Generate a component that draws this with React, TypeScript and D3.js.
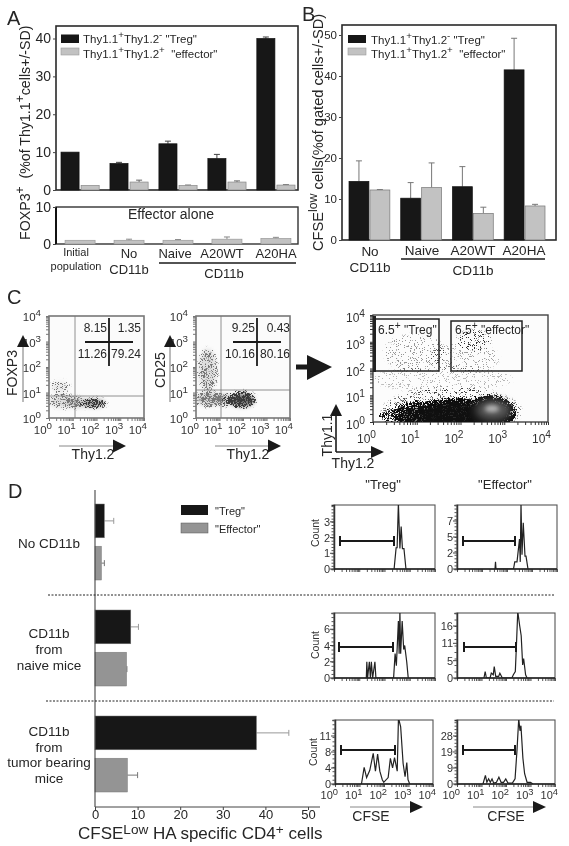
import { useEffect, useRef } from "react";
import * as d3 from "d3";

type Part = string | { sup: string };
type G = d3.Selection<SVGGElement, unknown, null, undefined>;
type Box = { left: number; right: number; top: number; bottom: number };

// panel A
const groupsA = ["Initial population", "No CD11b", "Naive", "A20WT", "A20HA"];
const seriesNames = ["Treg", "Effector"];
const tregA = [10, 7, 12.2, 8.3, 40];
const tregASd = [0, 0.3, 0.7, 1.1, 0.4];
const effectorA = [1.2, 2.1, 1.2, 2.1, 1.3];
const effectorASd = [0, 0.5, 0.1, 0.3, 0.1];
const aloneA = [1, 1, 1, 1.3, 1.5];
const aloneASd = [0, 0.3, 0.2, 0.6, 0.3];
const ticksA = [0, 10, 20, 30, 40];
const ticksAlone = [0, 10];

// panel B
const groupsB = ["No CD11b", "Naive", "A20WT", "A20HA"];
const tregB = [14.3, 10.2, 13, 41.5];
const tregBSd = [5, 3.8, 4.9, 7.7];
const effectorB = [12.2, 12.8, 6.5, 8.3];
const effectorBSd = [0.1, 6, 1.5, 0.4];
const ticksB = [0, 10, 20, 30, 40, 50];

// panel C, clouds are [x decade, y decade, x radius, y radius, density]
const decades = [0, 1, 2, 3, 4];
const quadC1 = ["8.15", "1.35", "11.26", "79.24"];
const quadC2 = ["9.25", "0.43", "10.16", "80.16"];
const lightC1 = [
  [0.45, 1.2, 0.42, 0.28, 0.35],
  [0.55, 0.65, 0.6, 0.3, 0.45],
  [1.2, 0.6, 0.5, 0.22, 0.55],
];
const paleC1 = [
  [0.45, 1.2, 0.35, 0.22, 0.2],
  [0.55, 0.65, 0.55, 0.25, 0.35],
  [1.2, 0.6, 0.5, 0.2, 0.5],
];
const darkC1 = [[1.87, 0.58, 0.55, 0.2, 0.7]];
const softC1 = [[1.9, 0.58, 0.45, 0.15, 0.6]];
const lightC2 = [
  [0.5, 1.9, 0.42, 0.85, 0.45],
  [0.55, 0.75, 0.6, 0.32, 0.6],
  [1.2, 0.72, 0.5, 0.25, 0.65],
];
const paleC2 = [
  [0.5, 1.9, 0.38, 0.8, 0.35],
  [0.55, 0.75, 0.55, 0.28, 0.5],
  [1.2, 0.72, 0.45, 0.22, 0.6],
];
const darkC2 = [
  [1.95, 0.72, 0.6, 0.33, 0.8],
  [1.4, 0.7, 0.3, 0.2, 0.5],
];
const softC2 = [[1.97, 0.7, 0.5, 0.25, 0.85]];
const sparseC3 = [
  [0.95, 2.6, 0.72, 0.7, 0.1],
  [2.3, 3.05, 0.4, 0.4, 0.22],
  [2.1, 2.4, 0.8, 0.55, 0.09],
  [1.6, 1.6, 1.6, 0.5, 0.07],
  [1.8, 0.4, 1.6, 0.9, 0.16],
];
const blackC3 = [
  [0.55, 0.2, 0.4, 0.35, 0.5],
  [1.1, 0.25, 0.65, 0.55, 0.85],
  [1.9, 0.25, 0.95, 0.65, 1],
  [2.65, 0.35, 0.62, 0.65, 1],
];
const shadeC3 = [
  [1.1, 0.2, 0.5, 0.35, 0.6],
  [1.9, 0.25, 0.8, 0.5, 0.9],
  [2.65, 0.35, 0.5, 0.5, 1],
];
const coreC3 = [[2.75, 0.45, 0.4, 0.38, 0.6]];
const brightC3 = [[2.72, 0.5, 0.16, 0.14, 0.8]];

// panel D
const groupsD = ["No CD11b", "CD11b from naive mice", "CD11b from tumor bearing mice"];
const tregD = [2.2, 8.4, 37.9];
const tregDSd = [2.2, 1.8, 7.6];
const effectorD = [1.5, 7.4, 7.6];
const effectorDSd = [0.7, 0.1, 2.4];
const ticksD = [0, 10, 20, 30, 40, 50];

// histograms, [CFSE decade, count]
const histNoTreg = [
  [2.38, 0], [2.46, 1.35], [2.5, 1.35], [2.55, 4.2], [2.61, 1.3], [2.66, 2.7], [2.71, 1.3], [2.77, 1.3], [2.85, 0],
];
const histNoEff = [
  [1.52, 0], [1.54, 1], [1.56, 0], [2.26, 0], [2.31, 1], [2.4, 1], [2.5, 4.2], [2.53, 1], [2.56, 9.2], [2.6, 2], [2.65, 6.5], [2.72, 1.8], [2.76, 1.8], [2.84, 0],
];
const histNaiveTreg = [
  [1.28, 0], [1.3, 2], [1.33, 0], [1.4, 2], [1.44, 0], [1.48, 2], [1.53, 0], [1.62, 2], [1.66, 0], [2.36, 0], [2.42, 3], [2.47, 1.5], [2.55, 7], [2.58, 3], [2.61, 8.2], [2.64, 3], [2.7, 7], [2.76, 3.5], [2.8, 4], [2.88, 2], [2.94, 0],
];
const histNaiveEff = [
  [1.1, 0], [1.15, 2], [1.2, 0], [1.35, 0], [1.4, 1.5], [1.48, 1], [1.52, 3.5], [1.58, 0.5], [1.7, 0.5], [1.75, 1.5], [1.85, 0], [2.24, 0], [2.3, 1], [2.38, 2], [2.42, 9], [2.48, 20.5], [2.56, 16], [2.62, 13], [2.68, 4], [2.72, 6], [2.8, 1], [2.86, 0],
];
const histTumorTreg = [
  [1.08, 0], [1.19, 3.9], [1.29, 1.5], [1.42, 3.2], [1.56, 7.2], [1.65, 3], [1.74, 7], [1.83, 3], [1.93, 1], [1.99, 0.4], [2.17, 1.5], [2.26, 6], [2.35, 3.8], [2.43, 6.2], [2.54, 3], [2.59, 15.5], [2.68, 13.4], [2.78, 4.8], [2.86, 1.7], [2.93, 5], [2.98, 1], [3.05, 0],
];
const histTumorEff = [
  [1.06, 0], [1.16, 5], [1.22, 1], [1.29, 3], [1.36, 1], [1.43, 3], [1.5, 0.5], [1.61, 1], [1.71, 4], [1.8, 1], [1.9, 1], [1.99, 3], [2.08, 0.5], [2.26, 0.5], [2.37, 3], [2.45, 20], [2.52, 38], [2.57, 31], [2.61, 34], [2.69, 15], [2.76, 6], [2.86, 1], [3, 1], [3.1, 0],
];
const histTicksNoTreg = [0, 1, 2, 3];
const histTicksNoEff = [0, 2.25, 4.5, 6.75];
const histTicksNaiveTreg = [0, 2, 4, 6];
const histTicksNaiveEff = [0, 5.33, 10.67, 16];
const histTicksTumorTreg = [0, 3.75, 7.5, 11.25];
const histTicksTumorEff = [0, 9.33, 18.67, 28];

const FONT = "'Liberation Sans', Arial, sans-serif";
const INK = "#262626";

function rich(
  g: G,
  x: number,
  y: number,
  parts: Part[],
  size: number,
  opts: { anchor?: string; rotate?: number; fill?: string; supShift?: number; supScale?: number } = {}
) {
  const t = g
    .append("text")
    .attr("transform", `translate(${x},${y}) rotate(${opts.rotate || 0})`)
    .attr("text-anchor", opts.anchor || "start")
    .attr("font-size", size)
    .attr("fill", opts.fill || INK)
    .style("white-space", "pre");
  let shift = 0;
  parts.forEach((p) => {
    const isSup = typeof p !== "string";
    const want = isSup ? -(opts.supShift || 0.4) * size : 0;
    t.append("tspan")
      .attr("dy", want - shift)
      .attr("font-size", isSup ? size * (opts.supScale || 0.85) : size)
      .text(isSup ? p.sup : p);
    shift = want;
  });
}

function bars(
  g: G,
  x: (i: number) => number,
  w: number,
  y: d3.ScaleLinear<number, number>,
  values: number[],
  sd: number[],
  fill: string,
  stroke: string,
  errColor: string
) {
  values.forEach((v, i) => {
    const cx = x(i) + w / 2;
    if (sd[i] > 0) {
      g.append("line").attr("x1", cx).attr("x2", cx).attr("y1", y(v)).attr("y2", y(v + sd[i])).attr("stroke", errColor);
      g.append("line").attr("x1", cx - 3).attr("x2", cx + 3).attr("y1", y(v + sd[i])).attr("y2", y(v + sd[i])).attr("stroke", errColor);
    }
    g.append("rect")
      .attr("x", x(i))
      .attr("y", y(v))
      .attr("width", w)
      .attr("height", y(0) - y(v))
      .attr("fill", fill)
      .attr("stroke", stroke)
      .attr("stroke-width", 0.7);
  });
}

function yAxis(g: G, xPos: number, y: d3.ScaleLinear<number, number>, ticks: number[], size: number) {
  const a = g
    .append("g")
    .attr("transform", `translate(${xPos},0)`)
    .call(d3.axisLeft(y).tickValues(ticks).tickSize(3).tickPadding(2));
  a.select(".domain").remove();
  a.selectAll("line").attr("stroke", "#444");
  a.selectAll("text").attr("font-size", size).attr("font-family", FONT).attr("fill", INK);
}

function logScales(box: Box) {
  return {
    x: d3.scaleLog().domain([1, 1e4]).range([box.left, box.right]),
    y: d3.scaleLog().domain([1, 1e4]).range([box.bottom, box.top]),
  };
}

const minor = d3.range(0, 4).flatMap((d) => d3.range(1, 10).map((m) => m * 10 ** d)).concat([1e4]);

function minorTicks(g: G, box: Box, color: string, bottomOnly = false) {
  const { x, y } = logScales(box);
  const b = g
    .append("g")
    .attr("transform", `translate(0,${box.bottom})`)
    .call(d3.axisBottom(x).tickValues(minor).tickFormat(() => "").tickSize(3));
  b.select(".domain").remove();
  b.selectAll("line").attr("stroke", color);
  if (bottomOnly) return;
  const l = g
    .append("g")
    .attr("transform", `translate(${box.left},0)`)
    .call(d3.axisLeft(y).tickValues(minor).tickFormat(() => "").tickSize(3));
  l.select(".domain").remove();
  l.selectAll("line").attr("stroke", color);
}

function clouds(g: G, box: Box, id: string, items: number[][], filter: string, fill = "#000") {
  const { x, y } = logScales(box);
  const c = g.append("g").attr("clip-path", `url(#${id})`).append("g").attr("filter", `url(#${filter})`);
  items.forEach(([cx, cy, rx, ry, d]) => {
    c.append("ellipse")
      .attr("cx", x(10 ** cx))
      .attr("cy", y(10 ** cy))
      .attr("rx", x(10 ** (cx + rx)) - x(10 ** cx))
      .attr("ry", y(10 ** cy) - y(10 ** (cy + ry)))
      .attr("fill", fill)
      .attr("fill-opacity", d);
  });
}

function clip(defs: d3.Selection<SVGDefsElement, unknown, null, undefined>, id: string, box: Box) {
  defs
    .append("clipPath")
    .attr("id", id)
    .append("rect")
    .attr("x", box.left)
    .attr("y", box.top)
    .attr("width", box.right - box.left)
    .attr("height", box.bottom - box.top);
}

function logLabels(g: G, box: Box, size: number, xBase: number, yEnd: number, yDrop: number) {
  const { x, y } = logScales(box);
  decades.forEach((d) => {
    rich(g, x(10 ** d) + 3, xBase, ["10", { sup: String(d) }], size, { anchor: "end", fill: "#333" });
    rich(g, yEnd, y(10 ** d) + yDrop, ["10", { sup: String(d) }], size, { anchor: "end", fill: "#333" });
  });
}

function triangle(g: G, pts: number[][], fill = "#1a1a1a") {
  g.append("polygon").attr("points", pts.map((p) => p.join(",")).join(" ")).attr("fill", fill);
}

function histogram(
  g: G,
  defs: d3.Selection<SVGDefsElement, unknown, null, undefined>,
  id: string,
  box: Box,
  data: number[][],
  yMax: number,
  ticks: number[],
  gate: number[],
  gateY: number,
  labelX: boolean
) {
  const { x } = logScales(box);
  const y = d3.scaleLinear().domain([0, yMax]).range([box.bottom, box.top]);
  clip(defs, id, box);
  g.append("rect")
    .attr("x", box.left)
    .attr("y", box.top)
    .attr("width", box.right - box.left)
    .attr("height", box.bottom - box.top)
    .attr("fill", "#fff")
    .attr("stroke", "#555")
    .attr("stroke-width", 1.1);
  const line = d3
    .line<number[]>()
    .x((d) => x(10 ** d[0]))
    .y((d) => y(d[1]));
  g.append("path")
    .attr("clip-path", `url(#${id})`)
    .attr("d", line(data))
    .attr("fill", "none")
    .attr("stroke", "#222")
    .attr("stroke-width", 1.2);
  minorTicks(g, box, "#555", true);
  const left = g
    .append("g")
    .attr("transform", `translate(${box.left},0)`)
    .call(d3.axisLeft(y).ticks(14).tickFormat(() => "").tickSize(2.5));
  left.select(".domain").attr("stroke", "#333").attr("stroke-width", 1.5);
  left.selectAll("line").attr("stroke", "#555");
  g.append("line")
    .attr("x1", box.left)
    .attr("x2", box.right)
    .attr("y1", box.bottom)
    .attr("y2", box.bottom)
    .attr("stroke", "#222")
    .attr("stroke-width", 1.6);
  ticks.forEach((t) => {
    g.append("line").attr("x1", box.left - 4).attr("x2", box.left).attr("y1", y(t)).attr("y2", y(t)).attr("stroke", "#444");
    rich(g, box.left - 4, y(t) + 4, [String(Math.round(t))], 11, { anchor: "end", fill: "#333" });
  });
  // gate marker
  g.append("line").attr("x1", gate[0]).attr("x2", gate[1]).attr("y1", gateY).attr("y2", gateY).attr("stroke", "#1a1a1a").attr("stroke-width", 2);
  gate.forEach((gx) =>
    g.append("line").attr("x1", gx).attr("x2", gx).attr("y1", gateY - 5).attr("y2", gateY + 5).attr("stroke", "#1a1a1a").attr("stroke-width", 2)
  );
  if (labelX) {
    decades.forEach((d) => {
      rich(g, x(10 ** d) + 3, box.bottom + 15, ["10", { sup: String(d) }], 11, { anchor: "end", fill: "#333" });
    });
  }
}

const legendParts = (a: string, b: string, name: string): Part[] => ["Thy1.1", { sup: a }, "Thy1.2", { sup: b }, name];

const App = () => {
  const svgRef = useRef<SVGSVGElement | null>(null);

  useEffect(() => {
    if (!svgRef.current) return;
    const svg = d3.select(svgRef.current);
    svg.selectAll("*").remove();
    const defs = svg.append("defs");

    // dither filter: blurred shape plus noise gives dots that follow the density
    [
      ["stipLight", "#777777", 1.8, 1.9],
      ["stipDark", "#3a3a3a", 1.4, 1.9],
      ["stipBlack", "#0c0c0c", 1.5, 1.9],
      ["stipSparse", "#333333", 1, 1.5],
    ].forEach(([id, color, blur, freq]) => {
      const f = defs
        .append("filter")
        .attr("id", id as string)
        .attr("filterUnits", "userSpaceOnUse")
        .attr("x", 0)
        .attr("y", 0)
        .attr("width", 569)
        .attr("height", 846)
        .attr("color-interpolation-filters", "sRGB");
      f.append("feGaussianBlur").attr("in", "SourceAlpha").attr("stdDeviation", blur as number).attr("result", "b");
      f.append("feTurbulence").attr("type", "fractalNoise").attr("baseFrequency", freq as number).attr("numOctaves", 1).attr("seed", 5).attr("result", "t");
      f.append("feColorMatrix").attr("in", "t").attr("type", "matrix").attr("values", "0 0 0 0 0 0 0 0 0 0 0 0 0 0 0 3.2 0 0 0 -1.1").attr("result", "n");
      f.append("feComposite").attr("in", "b").attr("in2", "n").attr("operator", "arithmetic").attr("k1", 0).attr("k2", 1).attr("k3", 1).attr("k4", -1).attr("result", "sum");
      const ct = f.append("feComponentTransfer").attr("in", "sum").attr("result", "mask");
      ct.append("feFuncA").attr("type", "linear").attr("slope", 5).attr("intercept", 0);
      f.append("feFlood").attr("flood-color", color as string).attr("result", "ink");
      f.append("feComposite").attr("in", "ink").attr("in2", "mask").attr("operator", "in");
    });
    [
      ["soft", 4],
      ["soft2", 2],
      ["page", 0.4],
    ].forEach(([id, sd]) => {
      defs.append("filter").attr("id", id as string).attr("filterUnits", "userSpaceOnUse").attr("x", 0).attr("y", 0).attr("width", 569).attr("height", 846)
        .attr("color-interpolation-filters", "sRGB")
        .append("feGaussianBlur").attr("stdDeviation", sd as number);
    });

    const root = svg.append("g").attr("font-family", FONT).attr("filter", "url(#page)") as unknown as G;

    // panel letters
    rich(root, 7, 25, ["A"], 20);
    rich(root, 302, 21, ["B"], 20);
    rich(root, 7, 304, ["C"], 20);
    rich(root, 8, 498, ["D"], 20);

    // ---- panel A
    const yA = d3.scaleLinear().domain([0, 40]).range([190, 38.5]);
    const yAlone = d3.scaleLinear().domain([0, 10]).range([244, 207]);
    const xA = d3.scaleBand().domain(groupsA).range([61, 295]).paddingInner(0.22);
    const inA = d3.scaleBand().domain(seriesNames).range([0, xA.bandwidth()]).paddingInner(0.1);
    const a = root.append("g") as unknown as G;
    a.append("rect").attr("x", 56).attr("y", 26).attr("width", 242).attr("height", 164).attr("fill", "#fff").attr("stroke", "#2a2a2a").attr("stroke-width", 1.6);
    a.append("rect").attr("x", 56).attr("y", 207).attr("width", 242).attr("height", 37).attr("fill", "#fff").attr("stroke", "#333").attr("stroke-width", 1.4);
    a.append("line").attr("x1", 56).attr("x2", 56).attr("y1", 207).attr("y2", 244).attr("stroke", "#111").attr("stroke-width", 2);
    bars(a, (i) => xA(groupsA[i])! + inA("Treg")!, inA.bandwidth(), yA, tregA, tregASd, "#171717", "#111", "#444");
    bars(a, (i) => xA(groupsA[i])! + inA("Effector")!, inA.bandwidth(), yA, effectorA, effectorASd, "#c2c2c2", "#888", "#666");
    bars(a, (i) => xA(groupsA[i])! + xA.bandwidth() / 2 - 15, 30, yAlone, aloneA, aloneASd, "#c2c2c2", "#999", "#888");
    yAxis(a, 56, yA, ticksA, 14);
    yAxis(a, 56, yAlone, ticksAlone, 14);
    a.append("rect").attr("x", 61).attr("y", 34.5).attr("width", 18).attr("height", 8.5).attr("fill", "#171717");
    a.append("rect").attr("x", 61).attr("y", 48).attr("width", 18).attr("height", 7).attr("fill", "#c2c2c2").attr("stroke", "#999").attr("stroke-width", 0.6);
    rich(a, 83, 43, legendParts("+", "-", ' "Treg"'), 11.5);
    rich(a, 83, 58, legendParts("+", "+", '  "effector"'), 11.5);
    rich(a, 171, 219, ["Effector alone"], 14, { anchor: "middle" });
    rich(a, 76, 256, ["Initial"], 11, { anchor: "middle" });
    rich(a, 76, 270, ["population"], 11, { anchor: "middle" });
    rich(a, 129, 258, ["No"], 13, { anchor: "middle" });
    rich(a, 129, 274, ["CD11b"], 13, { anchor: "middle" });
    rich(a, 175, 258, ["Naive"], 13, { anchor: "middle" });
    rich(a, 222, 258, ["A20WT"], 13, { anchor: "middle" });
    rich(a, 276, 258, ["A20HA"], 13, { anchor: "middle" });
    rich(a, 224, 278, ["CD11b"], 13, { anchor: "middle" });
    a.append("line").attr("x1", 159).attr("x2", 296).attr("y1", 263).attr("y2", 263).attr("stroke", "#1a1a1a").attr("stroke-width", 1.7);
    rich(a, 30, 240, ["FOXP3", { sup: "+" }, "  (%of Thy1.1", { sup: "+" }, "cells+/-SD)"], 14.2, { rotate: -90 });

    // ---- panel B
    const yB = d3.scaleLinear().domain([0, 50]).range([240, 35]);
    const xB = d3.scaleBand().domain(groupsB).range([349, 545]).paddingInner(0.21);
    const inB = d3.scaleBand().domain(seriesNames).range([0, xB.bandwidth()]).paddingInner(0.05);
    const b = root.append("g") as unknown as G;
    b.append("rect").attr("x", 342).attr("y", 25).attr("width", 214).attr("height", 215).attr("fill", "#fff").attr("stroke", "#2a2a2a").attr("stroke-width", 1.6);
    bars(b, (i) => xB(groupsB[i])! + inB("Treg")!, inB.bandwidth(), yB, tregB, tregBSd, "#171717", "#111", "#777");
    bars(b, (i) => xB(groupsB[i])! + inB("Effector")!, inB.bandwidth(), yB, effectorB, effectorBSd, "#c2c2c2", "#777", "#777");
    yAxis(b, 342, yB, ticksB, 11.5);
    b.append("rect").attr("x", 348).attr("y", 35).attr("width", 18).attr("height", 8).attr("fill", "#171717");
    b.append("rect").attr("x", 348).attr("y", 48).attr("width", 18).attr("height", 7).attr("fill", "#c2c2c2").attr("stroke", "#999").attr("stroke-width", 0.6);
    rich(b, 371, 44, legendParts("+", "-", ' "Treg"'), 11.5);
    rich(b, 371, 58, legendParts("+", "+", '  "effector"'), 11.5);
    rich(b, 370, 256, ["No"], 13.5, { anchor: "middle" });
    rich(b, 370, 272, ["CD11b"], 13.5, { anchor: "middle" });
    rich(b, 422, 255, ["Naive"], 13.5, { anchor: "middle" });
    rich(b, 473, 255, ["A20WT"], 13.5, { anchor: "middle" });
    rich(b, 524, 255, ["A20HA"], 13.5, { anchor: "middle" });
    rich(b, 473, 275, ["CD11b"], 13.5, { anchor: "middle" });
    b.append("line").attr("x1", 401).attr("x2", 545).attr("y1", 259).attr("y2", 259).attr("stroke", "#1a1a1a").attr("stroke-width", 1.7);
    rich(b, 323, 251, ["CFSE", { sup: "low" }, " cells(%of gated cells+/-SD)"], 14.6, { rotate: -90 });

    // ---- panel C
    const boxC1: Box = { left: 49, right: 144, top: 316, bottom: 418 };
    const boxC2: Box = { left: 196, right: 290, top: 316, bottom: 418 };
    const boxC3: Box = { left: 373, right: 548, top: 315, bottom: 422 };
    clip(defs, "c1", boxC1);
    clip(defs, "c2", boxC2);
    clip(defs, "c3", boxC3);
    const c = root.append("g") as unknown as G;
    [boxC1, boxC2].forEach((box, idx) => {
      const id = idx ? "c2" : "c1";
      c.append("rect").attr("x", box.left).attr("y", box.top).attr("width", box.right - box.left).attr("height", box.bottom - box.top).attr("fill", "#fbfbfb").attr("stroke", "#777").attr("stroke-width", 1.6);
      clouds(c, box, id, idx ? paleC2 : paleC1, "soft2", "#aaa");
      clouds(c, box, id, idx ? lightC2 : lightC1, "stipLight");
      clouds(c, box, id, idx ? softC2 : softC1, "soft2", "#555");
      clouds(c, box, id, idx ? darkC2 : darkC1, "stipDark");
      minorTicks(c, box, "#777");
      logLabels(c, box, 11.5, 434, box.left - 8, 5);
    });
    const gateLines = [
      [75, 396, boxC1],
      [221, 390, boxC2],
    ] as [number, number, Box][];
    gateLines.forEach(([gx, gy, box]) => {
      c.append("line").attr("x1", gx).attr("x2", gx).attr("y1", box.top).attr("y2", box.bottom).attr("stroke", "#777").attr("stroke-width", 0.8);
      c.append("line").attr("x1", box.left).attr("x2", box.right).attr("y1", gy).attr("y2", gy).attr("stroke", "#777").attr("stroke-width", 0.8);
    });
    [109, 257].forEach((cx) => {
      c.append("line").attr("x1", cx).attr("x2", cx).attr("y1", 318).attr("y2", 366).attr("stroke", "#1a1a1a").attr("stroke-width", 1.8);
      c.append("line").attr("x1", cx - 24).attr("x2", cx + 24).attr("y1", 342).attr("y2", 342).attr("stroke", "#1a1a1a").attr("stroke-width", 1.8);
    });
    [
      [107, 141, quadC1],
      [255, 290, quadC2],
    ].forEach(([x1, x2, q]) => {
      const labels = q as string[];
      rich(c, x1 as number, 332, [labels[0]], 12, { anchor: "end" });
      rich(c, x2 as number, 332, [labels[1]], 12, { anchor: "end" });
      rich(c, x1 as number, 358, [labels[2]], 12, { anchor: "end" });
      rich(c, x2 as number, 358, [labels[3]], 12, { anchor: "end" });
    });
    // axis arrows of the two small plots
    [
      [23, 17, "FOXP3", 373],
      [170, 165, "CD25", 370],
    ].forEach(([lx, tx, name, cy]) => {
      c.append("line").attr("x1", lx).attr("x2", lx).attr("y1", 402).attr("y2", 345).attr("stroke", "#777");
      triangle(c, [[(lx as number) - 6, 347], [(lx as number) + 6, 347], [lx as number, 335]]);
      rich(c, tx as number, cy as number, [name as string], 14, { anchor: "middle", rotate: -90 });
    });
    [
      [59, 113, 93],
      [215, 268, 248],
    ].forEach(([x1, x2, tx]) => {
      c.append("line").attr("x1", x1).attr("x2", x2).attr("y1", 446).attr("y2", 446).attr("stroke", "#888");
      triangle(c, [[x2, 439.5], [x2, 452.5], [x2 + 13, 446]]);
      rich(c, tx, 459, ["Thy1.2"], 14, { anchor: "middle" });
    });
    // big arrow
    c.append("rect").attr("x", 296).attr("y", 364.5).attr("width", 14).attr("height", 5).attr("fill", "#1a1a1a");
    triangle(c, [[307, 355], [307, 380], [332, 367]]);
    // third plot
    c.append("rect").attr("x", boxC3.left).attr("y", boxC3.top).attr("width", 175).attr("height", 107).attr("fill", "#fcfcfc").attr("stroke", "#444").attr("stroke-width", 1.4);
    clouds(c, boxC3, "c3", sparseC3, "stipSparse");
    clouds(c, boxC3, "c3", blackC3, "stipBlack");
    clouds(c, boxC3, "c3", shadeC3, "soft2", "#111");
    clouds(c, boxC3, "c3", coreC3, "soft", "#8a8a8a");
    clouds(c, boxC3, "c3", brightC3, "soft2", "#c8c8c8");
    minorTicks(c, boxC3, "#333");
    c.append("line").attr("x1", 374.5).attr("x2", 374.5).attr("y1", 316).attr("y2", 372).attr("stroke", "#222").attr("stroke-width", 3);
    c.append("rect").attr("x", 375).attr("y", 319).attr("width", 64).attr("height", 52).attr("fill", "none").attr("stroke", "#222").attr("stroke-width", 1.5);
    c.append("rect").attr("x", 451).attr("y", 321).attr("width", 71).attr("height", 50).attr("fill", "none").attr("stroke", "#222").attr("stroke-width", 1.5);
    rich(c, 378, 334, ["6.5", { sup: "+" }, ' "Treg"'], 12);
    rich(c, 455, 334, ["6.5", { sup: "+" }, ' "effector"'], 12);
    logLabels(c, boxC3, 12, 443, 365, 7);
    c.append("line").attr("x1", 336).attr("x2", 336).attr("y1", 415).attr("y2", 452).attr("stroke", "#1a1a1a").attr("stroke-width", 1.6);
    c.append("line").attr("x1", 336).attr("x2", 372).attr("y1", 452).attr("y2", 452).attr("stroke", "#1a1a1a").attr("stroke-width", 1.6);
    triangle(c, [[330, 416], [342, 416], [336, 404]]);
    triangle(c, [[371, 446], [371, 458], [384, 452]]);
    rich(c, 332, 435, ["Thy1.1"], 14, { anchor: "middle", rotate: -90 });
    rich(c, 353, 468, ["Thy1.2"], 14, { anchor: "middle" });

    // ---- panel D
    const xD = d3.scaleLinear().domain([0, 50]).range([95, 308]);
    const yD = d3.scaleBand().domain(groupsD).range([504, 822]);
    const inD = d3.scaleBand().domain(seriesNames).range([0, 76]).paddingInner(0.2);
    const dp = root.append("g") as unknown as G;
    const hbars = (values: number[], sd: number[], name: string, fill: string, err: string) => {
      values.forEach((v, i) => {
        const top = yD(groupsD[i])! + inD(name)!;
        const h = inD.bandwidth();
        dp.append("line").attr("x1", xD(v)).attr("x2", xD(v + sd[i])).attr("y1", top + h / 2).attr("y2", top + h / 2).attr("stroke", err);
        dp.append("line").attr("x1", xD(v + sd[i])).attr("x2", xD(v + sd[i])).attr("y1", top + h / 2 - 3).attr("y2", top + h / 2 + 3).attr("stroke", err);
        dp.append("rect").attr("x", xD(0)).attr("y", top).attr("width", xD(v) - xD(0)).attr("height", h).attr("fill", fill).attr("stroke", "#777").attr("stroke-width", 0.5);
      });
    };
    hbars(tregD, tregDSd, "Treg", "#171717", "#999");
    hbars(effectorD, effectorDSd, "Effector", "#949494", "#777");
    dp.append("line").attr("x1", 95).attr("x2", 95).attr("y1", 490).attr("y2", 807).attr("stroke", "#444").attr("stroke-width", 1.1);
    const ax = dp.append("g").attr("transform", "translate(0,807)").call(d3.axisBottom(xD).tickValues(ticksD).tickSize(3).tickPadding(0));
    ax.select(".domain").remove();
    ax.selectAll("line").attr("stroke", "#444");
    ax.selectAll("text").attr("font-size", 13).attr("font-family", FONT).attr("fill", INK);
    dp.append("line").attr("x1", 95).attr("x2", 320).attr("y1", 807).attr("y2", 807).attr("stroke", "#444");
    dp.append("rect").attr("x", 181).attr("y", 505).attr("width", 27).attr("height", 10).attr("fill", "#171717");
    dp.append("rect").attr("x", 181).attr("y", 523).attr("width", 27).attr("height", 10).attr("fill", "#949494").attr("stroke", "#555").attr("stroke-width", 0.5);
    rich(dp, 215, 515, ['"Treg"'], 11);
    rich(dp, 215, 533, ['"Effector"'], 11);
    rich(dp, 49, 548, ["No CD11b"], 13.5, { anchor: "middle" });
    ["CD11b", "from", "naive mice"].forEach((s, i) => rich(dp, 49, 638 + i * 16, [s], 13.5, { anchor: "middle" }));
    ["CD11b", "from", "tumor bearing", "mice"].forEach((s, i) => rich(dp, 49, 736 + i * 15.6, [s], 13.5, { anchor: "middle" }));
    rich(dp, 78, 839, ["CFSE", { sup: "Low" }, " HA specific CD4", { sup: "+" }, " cells"], 17, { supShift: 0.3, supScale: 0.8 });
    [
      [48, 595],
      [46, 701],
    ].forEach(([x1, y0]) => {
      dp.append("line").attr("x1", x1).attr("x2", 554).attr("y1", y0).attr("y2", y0).attr("stroke", "#222").attr("stroke-width", 1).attr("stroke-dasharray", "2,1.5");
    });
    rich(dp, 383, 489, ['"Treg"'], 13, { anchor: "middle" });
    rich(dp, 505, 489, ['"Effector"'], 13, { anchor: "middle" });

    histogram(dp, defs, "h1", { left: 334, right: 435, top: 505, bottom: 569 }, histNoTreg, 4.07, histTicksNoTreg, [340, 394], 541, false);
    histogram(dp, defs, "h2", { left: 457, right: 557, top: 505, bottom: 569 }, histNoEff, 9, histTicksNoEff, [463, 515], 541, false);
    histogram(dp, defs, "h3", { left: 334, right: 435, top: 613, bottom: 678 }, histNaiveTreg, 8, histTicksNaiveTreg, [339, 393], 647, false);
    histogram(dp, defs, "h4", { left: 457, right: 555, top: 613, bottom: 678 }, histNaiveEff, 20, histTicksNaiveEff, [464, 516], 647, false);
    histogram(dp, defs, "h5", { left: 335, right: 433, top: 720, bottom: 784 }, histTumorTreg, 15, histTicksTumorTreg, [341, 395], 750, true);
    histogram(dp, defs, "h6", { left: 457, right: 555, top: 720, bottom: 784 }, histTumorEff, 37.3, histTicksTumorEff, [463, 515], 750, true);
    [
      [319, 533],
      [319, 645],
      [317, 752],
    ].forEach(([lx, ly]) => rich(dp, lx, ly, ["Count"], 10.5, { anchor: "middle", rotate: -90, fill: "#333" }));
    [
      [350, 371],
      [473, 506],
    ].forEach(([x1, tx]) => {
      dp.append("line").attr("x1", x1).attr("x2", x1 + 60).attr("y1", 807).attr("y2", 807).attr("stroke", "#888");
      triangle(dp, [[x1 + 60, 801], [x1 + 60, 813], [x1 + 73, 807]]);
      rich(dp, tx, 821, ["CFSE"], 14, { anchor: "middle" });
    });
  }, []);

  return (
    <svg
      ref={svgRef}
      width={569}
      height={846}
      style={{ position: "absolute", left: 0, top: 0, background: "#fff" }}
    ></svg>
  );
};

export default App;
